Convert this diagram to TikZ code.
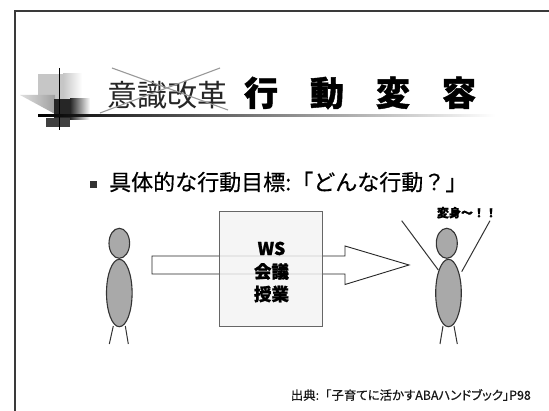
\documentclass[tikz,border=0pt]{standalone}
\usepackage{fontspec}
\newfontfamily\jp[BoldFeatures={FakeBold=1.2}]{Noto Sans CJK JP}
\newfontfamily\jpm[FakeBold=0.4]{Noto Sans CJK JP}
\newfontfamily\jpp[RawFeature=+palt, FakeBold=0.6]{Noto Sans CJK JP}
\usetikzlibrary{shapes.geometric}
\definecolor{framegray}{HTML}{3A3A3A}
\definecolor{bodygray}{HTML}{A9A9A9}
\definecolor{boxfill}{HTML}{F3F3F3}
\tikzset{
  frameline/.style={line width=2.4pt, draw=framegray},
  crossline/.style={line width=1.1pt, draw=gray!80},
  figpart/.style={ellipse, draw=black!80, fill=bodygray, line width=1.1pt, inner sep=0pt},
  limb/.style={line width=1pt, draw=black!80},
  bigarrow/.style={draw=black!85, fill=white, line width=0.9pt},
  boxstyle/.style={draw=black!60, fill=boxfill, fill opacity=0.8, line width=1.1pt},
  boxtext/.style={font=\jp\bfseries\fontsize{17.5}{19}\selectfont, text=black, inner sep=0pt}
}
\begin{document}
\begin{tikzpicture}[x=1pt, y=-1pt]
\useasboundingbox (0,0) rectangle (549,411);
\fill[white] (0,0) rectangle (549,411);

% slide frame
\draw[frameline] (15.2,420) -- (15.2,10.8) -- (560,10.8);

% title ornament
\fill[gray!45] (38,74) rectangle (63,105);
\shade[left color=gray!45, right color=white] (63,74) rectangle (82,105);
\shade[left color=gray!25, right color=gray!75] (20,95) -- (55,95) -- (55,114) -- cycle;
\fill[black!85] (54,99) rectangle (70,120);
\shade[left color=black!85, right color=white] (70,99) rectangle (90,120);
\fill[black!75] (46,118) rectangle (70,127);
\draw[line width=1.2pt, black] (59.3,68) -- (59.3,130);
\shade[left color=black, right color=white] (38,115) rectangle (495,116.6);

% title
\node[font=\jp\fontsize{30}{32}\selectfont, text=black!85, inner sep=0pt] (old) at (167,95) {意識改革};
\draw[crossline] (112,68) -- (228,110);
\draw[crossline] (100,113) -- (220,68);
\node[font=\jp\bfseries\fontsize{34}{36}\selectfont, inner sep=0pt] (new) at (360,93)
  {行\hspace{32pt}動\hspace{32pt}変\hspace{32pt}容};

% bullet line
\fill[black!80] (90,181) rectangle (97,188);
\node[font=\jpm\fontsize{22}{24}\selectfont, anchor=west, inner sep=0pt] (goal) at (109,182)
  {具体的な行動目標:「どんな行動？」};

% arrow behind the box
\coordinate (a1) at (152,256);
\draw[bigarrow] (a1) -- (345,256) -- (345,246) -- (409,265) -- (345,284.5) -- (345,274) -- (152,274) -- cycle;

% box
\node[boxstyle, minimum width=103pt, minimum height=115pt, inner sep=0pt] (box) at (271.3,269.3) {};
\node[boxtext] (ws) at (271.5,248.5) {WS};
\node[boxtext] (kaigi) at (271.5,271.5) {会議};
\node[boxtext] (jugyo) at (271.5,294) {授業};

% person before
\node[figpart, minimum width=20.6pt, minimum height=30pt] (h1) at (119.3,243.3) {};
\node[figpart, minimum width=25.6pt, minimum height=67.4pt] (b1) at (119.3,293) {};
\draw[limb] (113.3,326) -- (109.3,344);
\draw[limb] (125.3,326) -- (128.3,344);

% person after
\draw[limb] (401.7,220.7) -- (438.3,270);
\draw[limb] (490,220.7) -- (461.7,271.7);
\node[figpart, minimum width=21pt, minimum height=30pt] (h2) at (446.8,243.3) {};
\node[figpart, minimum width=25.6pt, minimum height=67.4pt] (b2) at (448.5,293) {};
\draw[limb] (443,326) -- (440,344);
\draw[limb] (454,326) -- (457.3,344);
\node[font=\jp\bfseries\fontsize{12}{13}\selectfont, inner sep=0pt] (shout) at (467,212.7) {変身〜！！};

% source
\node[font=\jpp\fontsize{12.4}{14}\selectfont, anchor=east, inner sep=0pt, text=black!90] (src) at (531,395)
  {{\jpm 出典:「}子育てに活かすABAハンドブック」P98};
\end{tikzpicture}
\end{document}
